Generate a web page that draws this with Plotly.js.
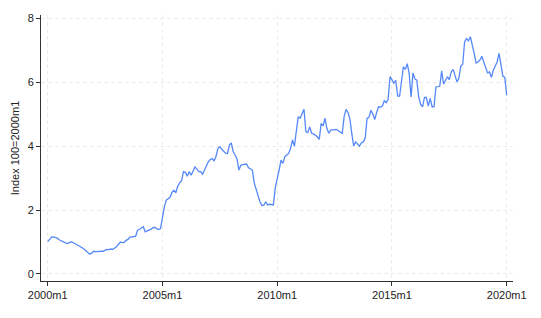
<!DOCTYPE html>
<html>
<head>
<meta charset="utf-8">
<script src="https://cdn.plot.ly/plotly-3.0.1.min.js"></script>
<style>html,body{margin:0;padding:0;background:#fff;}#chart{width:541px;height:318px;}</style>
</head>
<body>
<div id="chart"></div>
<script>
// Monthly index values, 2000m1 .. 2020m1
const y2000 = [1.01, 1.08, 1.15, 1.16, 1.15, 1.12, 1.07, 1.04, 1.00, 0.98, 0.95, 0.97];
const y2001 = [1.00, 0.99, 0.96, 0.93, 0.90, 0.86, 0.82, 0.78, 0.73, 0.65, 0.62, 0.65];
const y2002 = [0.71, 0.70, 0.70, 0.69, 0.70, 0.71, 0.74, 0.77, 0.76, 0.78, 0.77, 0.80];
const y2003 = [0.85, 0.93, 1.00, 0.98, 0.99, 1.05, 1.08, 1.15, 1.17, 1.17, 1.18, 1.37];
const y2004 = [1.40, 1.43, 1.48, 1.32, 1.34, 1.37, 1.40, 1.44, 1.46, 1.42, 1.39, 1.42];
const y2005 = [1.80, 2.10, 2.31, 2.35, 2.40, 2.55, 2.62, 2.54, 2.75, 2.85, 2.92, 3.20];
const y2006 = [3.18, 3.06, 3.20, 3.09, 3.25, 3.35, 3.28, 3.20, 3.20, 3.12, 3.25, 3.40];
const y2007 = [3.51, 3.58, 3.61, 3.54, 3.67, 3.93, 3.98, 3.90, 3.85, 3.78, 3.77, 4.03];
const y2008 = [4.10, 3.82, 3.72, 3.60, 3.25, 3.40, 3.42, 3.43, 3.44, 3.32, 3.28, 3.25];
const y2009 = [2.85, 2.62, 2.47, 2.25, 2.14, 2.15, 2.26, 2.16, 2.18, 2.17, 2.16, 2.70];
const y2010 = [2.95, 3.25, 3.56, 3.46, 3.67, 3.72, 3.77, 3.93, 4.19, 4.00, 4.50, 4.92];
const y2011 = [4.87, 5.00, 5.15, 4.45, 4.42, 4.60, 4.40, 4.38, 4.34, 4.29, 4.21, 4.71];
const y2012 = [4.63, 4.87, 4.55, 4.40, 4.50, 4.50, 4.51, 4.52, 4.48, 4.45, 4.40, 4.92];
const y2013 = [5.15, 5.05, 4.85, 4.40, 4.00, 4.13, 4.05, 4.00, 4.10, 4.13, 4.24, 4.87];
const y2014 = [4.90, 5.12, 5.00, 4.83, 5.05, 5.23, 5.22, 5.25, 5.42, 5.36, 5.46, 6.17];
const y2015 = [6.08, 5.96, 6.06, 5.56, 5.56, 6.10, 6.48, 6.40, 6.58, 6.27, 5.54, 6.29];
const y2016 = [6.10, 6.06, 5.54, 5.30, 5.23, 5.52, 5.52, 5.25, 5.49, 5.23, 5.23, 5.85];
const y2017 = [5.86, 5.87, 6.35, 5.94, 6.05, 6.17, 6.08, 6.32, 6.40, 6.22, 6.01, 6.12];
const y2018 = [6.50, 6.56, 7.26, 7.36, 7.29, 7.42, 7.10, 6.90, 6.60, 6.63, 6.69, 6.81];
const y2019 = [6.63, 6.45, 6.29, 6.32, 6.15, 6.37, 6.53, 6.63, 6.90, 6.58, 6.19, 6.15];
const y2020 = [5.59];

const tickMonths = [0, 60, 120, 180, 240];
const tickLabels = ["2000m1", "2005m1", "2010m1", "2015m1", "2020m1"];
const yTicks = [0, 2, 4, 6, 8];

const values = [].concat(y2000, y2001, y2002, y2003, y2004, y2005, y2006, y2007, y2008, y2009,
  y2010, y2011, y2012, y2013, y2014, y2015, y2016, y2017, y2018, y2019, y2020);
const months = values.map((_, i) => i);

const font = {family: "Liberation Sans, Arial, sans-serif", size: 11, color: "#222"};

Plotly.newPlot("chart", [{
  x: months, y: values, type: "scatter", mode: "lines",
  line: {color: "#5588f8", width: 1.3}, hoverinfo: "skip"
}], {
  width: 541, height: 318,
  margin: {l: 41, r: 28, t: 15, b: 37},
  paper_bgcolor: "#fff", plot_bgcolor: "#fff",
  showlegend: false,
  font: font,
  xaxis: {
    range: [-3.5, 243.3], tickvals: tickMonths, ticktext: tickLabels,
    showline: true, linecolor: "#333", linewidth: 1,
    ticks: "outside", ticklen: 4, tickcolor: "#333",
    showgrid: true, gridcolor: "#ebebeb", griddash: "4px,3px", gridwidth: 1,
    zeroline: false, tickfont: font
  },
  yaxis: {
    range: [-0.22, 8.1], tickvals: yTicks,
    showline: true, linecolor: "#333", linewidth: 1,
    ticks: "outside", ticklen: 4, tickcolor: "#333",
    showgrid: true, gridcolor: "#ebebeb", griddash: "4px,3px", gridwidth: 1,
    zeroline: false, tickfont: font,
    title: {text: "Index 100=2000m1", font: font, standoff: 5}
  }
}, {staticPlot: true, displayModeBar: false});
</script>
</body>
</html>
